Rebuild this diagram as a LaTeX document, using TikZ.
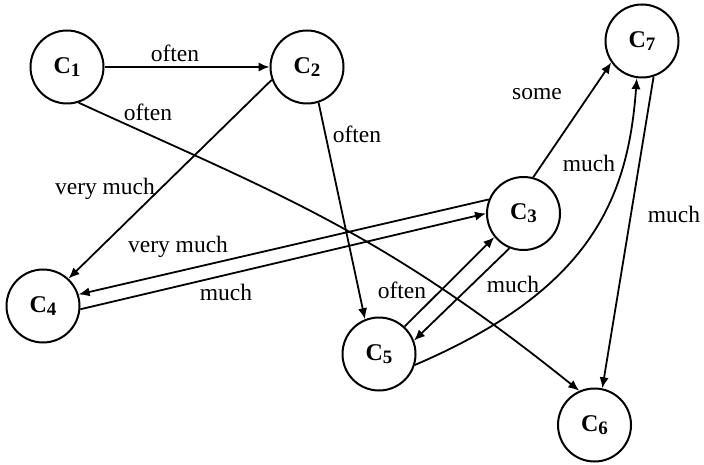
\documentclass[tikz,border=0pt]{standalone}
\usepackage{fontspec}
\setmainfont{Liberation Serif}
\usetikzlibrary{arrows.meta}
\newcommand\cname[1]{C\raisebox{-0.28ex}{\fontsize{9.5}{10}\selectfont #1}}
\begin{document}
\begin{tikzpicture}[x=0.5pt,y=-0.5pt,
  cnode/.style={circle,draw,line width=1pt,minimum size=36.5pt,inner sep=0pt,
    font=\fontsize{12}{14}\selectfont\bfseries},
  arr/.style={line width=0.9pt,-{Latex[length=5.5pt,width=4.6pt]}},
  lbl/.style={font=\fontsize{11.75}{14}\selectfont,inner sep=0pt,anchor=base}]
\useasboundingbox (0,0) rectangle (704,464);
% nodes
\node[cnode] (C1) at (67,67) {\cname{1}};
\node[cnode] (C2) at (307,67) {\cname{2}};
\node[cnode] (C3) at (523.5,213.5) {\cname{3}};
\node[cnode] (C4) at (43,306) {\cname{4}};
\node[cnode] (C5) at (379,354) {\cname{5}};
\node[cnode] (C6) at (594.5,425) {\cname{6}};
\node[cnode] (C7) at (642,41) {\cname{7}};
% edges
\draw[arr] (C1.east) -- (C2.west);
\draw[arr] (C1.-72) .. controls (278,194) and (379,230) .. (C6.114);
\draw[arr] (C2.-72) -- (C5.112);
\draw[arr] (C2.-160) -- (C4.47);
\draw[arr] (C3.158) -- (C4.18);
\draw[arr] (C4.-5) -- (C3.180);
\draw[arr] (C3.75) -- (C7.-145);
\draw[arr] (C5.47) -- (C3.-141);
\draw[arr] (C3.-112) -- (C5.21);
\draw[arr] (C7.-72) -- (C6.78);
\draw[arr] (C5.-17) .. controls (590,290) and (628,200) .. (C7.-98);
% labels
\node[lbl] (l1) at (175,62) {often};
\node[lbl] (l2) at (148,120.5) {often};
\node[lbl] (l3) at (105,195) {very much};
\node[lbl] (l4) at (357,143) {often};
\node[lbl] (l5) at (537,100) {some};
\node[lbl] (l6) at (589,172) {much};
\node[lbl] (l7) at (674,222) {much};
\node[lbl] (l8) at (178,252.5) {very much};
\node[lbl] (l9) at (226,300) {much};
\node[lbl] (l10) at (402,298) {often};
\node[lbl] (l11) at (513,292) {much};
\end{tikzpicture}
\end{document}
